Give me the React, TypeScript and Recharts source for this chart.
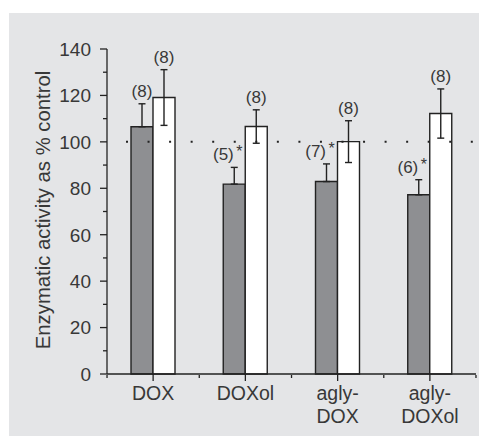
import React from 'react';
import { BarChart, Bar, XAxis, YAxis, ErrorBar, ReferenceLine, LabelList } from 'recharts';

const categories = ['DOX', 'DOXol', 'agly-DOX', 'agly-DOXol'];
const grayValues = [106.5, 81.8, 82.9, 77.2];
const grayErrUp = [9.9, 7.2, 7.6, 6.5];
const grayN = [8, 5, 7, 6];
const graySig = [false, true, true, true];
const whiteValues = [119.1, 106.6, 100.1, 112.2];
const whiteErr = [12, 7.2, 9, 10.6];
const whiteN = [8, 8, 8, 8];
const yTicks = [0, 10, 20, 30, 40, 50, 60, 70, 80, 90, 100, 110, 120, 130, 140];
const controlLevel = 100;
const yLabel = 'Enzymatic activity as % control';

const data = categories.map((c, i) => ({
  name: c,
  gray: grayValues[i],
  grayErr: [0, grayErrUp[i]],
  grayErrTop: grayErrUp[i],
  grayN: grayN[i],
  graySig: graySig[i],
  white: whiteValues[i],
  whiteErr: whiteErr[i],
  whiteN: whiteN[i],
}));

const FONT = '"Liberation Sans", Arial, sans-serif';
const TXT = '#383838';
const INK = '#222';
const HALF_BAND = 46.1;

const YTick = (props: any) => {
  const { x, y, payload } = props;
  const major = payload.value % 20 === 0;
  return (
    <g>
      <line x1={x - (major ? 7 : 4)} x2={x} y1={y} y2={y} stroke={INK} strokeWidth={1.3} />
      {major && (
        <text x={x - 16} y={y} dy="0.36em" textAnchor="end" fontFamily={FONT} fontSize={19} fill={TXT}>
          {payload.value}
        </text>
      )}
    </g>
  );
};

const XTick = (props: any) => {
  const { x, y, payload, index } = props;
  const label: string = payload.value;
  const parts = label.includes('-') ? [label.slice(0, label.indexOf('-') + 1), label.slice(label.indexOf('-') + 1)] : [label];
  return (
    <g>
      <line x1={x} x2={x} y1={y} y2={y + 7} stroke={INK} strokeWidth={1.3} />
      <line x1={x - HALF_BAND} x2={x - HALF_BAND} y1={y + 1} y2={y + 4} stroke={INK} strokeWidth={1.3} />
      {index === categories.length - 1 && (
        <line x1={x + HALF_BAND} x2={x + HALF_BAND} y1={y + 1} y2={y + 4} stroke={INK} strokeWidth={1.3} />
      )}
      {parts.map((p, i) => (
        <text key={i} x={x} y={y + 26 + i * 23} textAnchor="middle" fontFamily={FONT} fontSize={19.5} fill={TXT}>
          {p}
        </text>
      ))}
    </g>
  );
};

const makeLabel = (errKey: 'grayErrTop' | 'whiteErr', nKey: 'grayN' | 'whiteN', sigKey?: 'graySig') => (props: any) => {
  const { x, y, width, height, value, index } = props;
  const d: any = data[index];
  const pxPerUnit = height / value;
  const errTop = y - d[errKey] * pxPerUnit;
  const cx = x + width / 2;
  const sig = sigKey ? d[sigKey] : false;
  const base = errTop - 7;
  if (sig) {
    return (
      <g>
        <text x={cx - 0.5} y={base} textAnchor="end" fontFamily={FONT} fontSize={17} fill={TXT}>
          {`(${d[nKey]})`}
        </text>
        <text x={cx + 2} y={base - 3} textAnchor="start" fontFamily={FONT} fontSize={16} fill={TXT}>
          *
        </text>
      </g>
    );
  }
  return (
    <text x={cx} y={base} textAnchor="middle" fontFamily={FONT} fontSize={17} fill={TXT}>
      {`(${d[nKey]})`}
    </text>
  );
};

export default function App() {
  return (
    <div style={{ position: 'relative', width: 479, height: 428 }}>
      <div style={{ position: 'absolute', left: 1, top: 5, width: 478, height: 423, background: '#e4e5e7' }} />
      <div style={{ position: 'absolute', left: 0, top: 0 }}>
        <BarChart
          width={479}
          height={428}
          data={data}
          margin={{ top: 41, right: 11, bottom: 0, left: 0 }}
          barCategoryGap={24}
          barGap={0}
          barSize={22}
        >
          <XAxis
            dataKey="name"
            height={62}
            axisLine={{ stroke: INK, strokeWidth: 1.3 }}
            tickLine={false}
            tickSize={0}
            tickMargin={0}
            tick={<XTick />}
            interval={0}
          />
          <YAxis
            width={99}
            domain={[0, 140]}
            ticks={yTicks}
            interval={0}
            axisLine={{ stroke: INK, strokeWidth: 1.3 }}
            tickLine={false}
            tickSize={0}
            tickMargin={0}
            tick={<YTick />}
            label={{
              content: () => (
                <text
                  x={35}
                  y={202}
                  transform="rotate(-90 35 202)"
                  textAnchor="middle"
                  dominantBaseline="central"
                  fontFamily={FONT}
                  fontSize={20.3}
                  fill={TXT}
                >
                  {yLabel}
                </text>
              ),
            }}
          />
          <Bar dataKey="gray" fill="#8e8f92" stroke={INK} strokeWidth={1.4} isAnimationActive={false}>
            <ErrorBar dataKey="grayErr" width={3.5} stroke={INK} strokeWidth={1.4} />
            <LabelList dataKey="gray" content={makeLabel('grayErrTop', 'grayN', 'graySig')} />
          </Bar>
          <Bar dataKey="white" fill="#ffffff" stroke={INK} strokeWidth={1.4} isAnimationActive={false}>
            <ErrorBar dataKey="whiteErr" width={3.5} stroke={INK} strokeWidth={1.4} />
            <LabelList dataKey="white" content={makeLabel('whiteErr', 'whiteN')} />
          </Bar>
          <ReferenceLine
            y={controlLevel}
            stroke="#222"
            strokeWidth={2}
            strokeDasharray="2 19.55"
            strokeDashoffset={-19}
          />
        </BarChart>
      </div>
    </div>
  );
}
